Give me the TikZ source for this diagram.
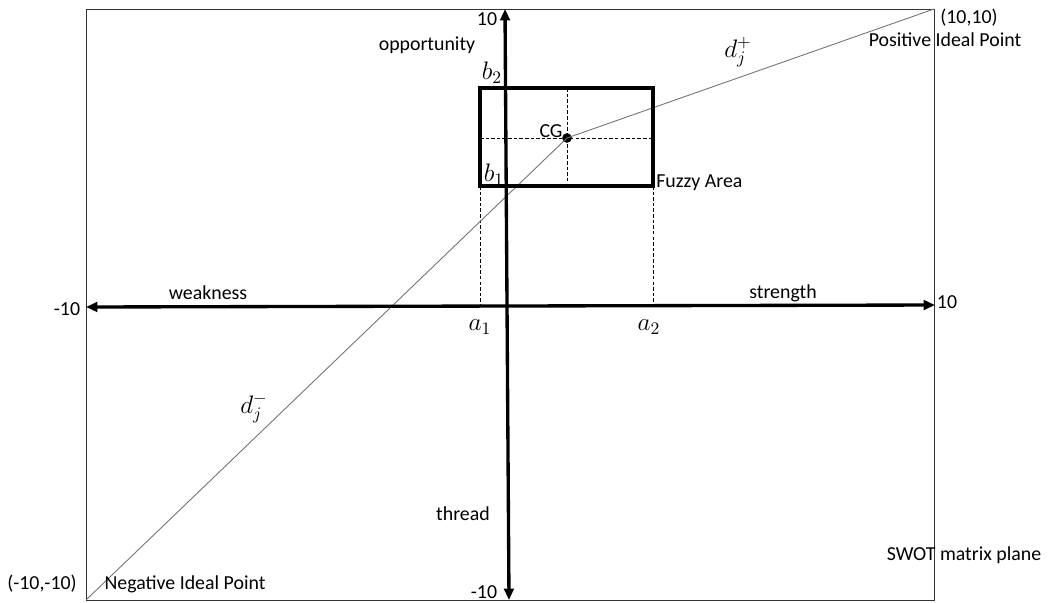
\documentclass[tikz,border=0pt]{standalone}
\usepackage{fontspec}
\setmainfont{Carlito}
\usetikzlibrary{arrows.meta}

\begin{document}
\begin{tikzpicture}[x=0.02cm, y=-0.02cm,
        every node/.style={font=\fontsize{11.3}{13}\selectfont, inner sep=0pt},
        mathlbl/.style={font=\fontsize{14}{16}\selectfont},
        axis/.style={line width=1.9pt, {Triangle[length=6.5pt, width=5.5pt]}-{Triangle[length=6.5pt, width=5.5pt]}},
        fuzzy/.style={line width=2pt},
        guide/.style={line width=0.4pt, dash pattern=on 2pt off 1.2pt},
        diag/.style={line width=0.5pt, draw=black!55}]

        \useasboundingbox (0, 0) rectangle (1050, 602);

        \coordinate (frame-nw) at (86, 9);
        \coordinate (frame-se) at (934, 600);
        \draw[line width=0.5pt, draw=black!80] (frame-nw) rectangle (frame-se);

        \coordinate (neg) at (86, 600);
        \coordinate (pos) at (934, 9);

        \coordinate (h-left) at (86, 307);
        \coordinate (h-right) at (935, 305);
        \coordinate (v-top) at (505, 9);
        \coordinate (v-bot) at (509, 600);

        \coordinate (box-nw) at (480, 88);
        \coordinate (box-se) at (653, 186);
        \coordinate (box-sw) at (480, 186);
        \coordinate (box-top) at (567, 88);
        \coordinate (box-bot) at (567, 186);
        \coordinate (box-left) at (480, 138);
        \coordinate (box-right) at (653, 138);
        \coordinate (a1-foot) at (480, 306);
        \coordinate (a2-foot) at (653, 306);

        \draw[guide] (box-top) -- (box-bot);
        \draw[guide] (box-left) -- (box-right);
        \draw[guide] (box-sw) -- (a1-foot);
        \draw[guide] (box-se) -- (a2-foot);

        \node (cg) at (567, 138) [circle, fill, minimum size=5.5pt] {};
        \draw[diag] (neg) -- (cg.center) -- (pos);

        \draw[fuzzy] (box-nw) rectangle (box-se);

        \draw[axis] (h-left) -- (h-right);
        \draw[axis] (v-bot) -- (v-top);

        \node (v-max) at (487, 19) {10};
        \node (v-min) at (484, 592) {-10};
        \node (h-min) at (67, 309) {-10};
        \node (h-max) at (947, 302) {10};

        \node (opp) at (427, 45) {opportunity};
        \node (thr) at (463, 514) {thread};
        \node (weak) at (208, 293) {weakness};
        \node (str) at (783, 293) {strength};

        \node (b2) at (492, 73) [mathlbl] {$b_2$};
        \node (b1) at (494, 175) [mathlbl] {$b_1$};
        \node (a1) at (480, 327) [mathlbl] {$a_1$};
        \node (a2) at (649, 327) [mathlbl] {$a_2$};

        \node (cg-lbl) at (551, 131) {CG};
        \node (fuzzy-lbl) at (656, 183) [anchor=west] {Fuzzy Area};

        \node (dplus) at (738, 52) [mathlbl] {$d_j^+$};
        \node (dminus) at (254, 408) [mathlbl] {$d_j^-$};

        \node (pos-xy) at (969, 18) {(10,10)};
        \node (pos-lbl) at (945, 40) {Positive Ideal Point};
        \node (neg-xy) at (42, 584) {(-10,-10)};
        \node (neg-lbl) at (185, 584) {Negative Ideal Point};
        \node (plane) at (964, 555) {SWOT matrix plane};

\end{tikzpicture}
\end{document}
